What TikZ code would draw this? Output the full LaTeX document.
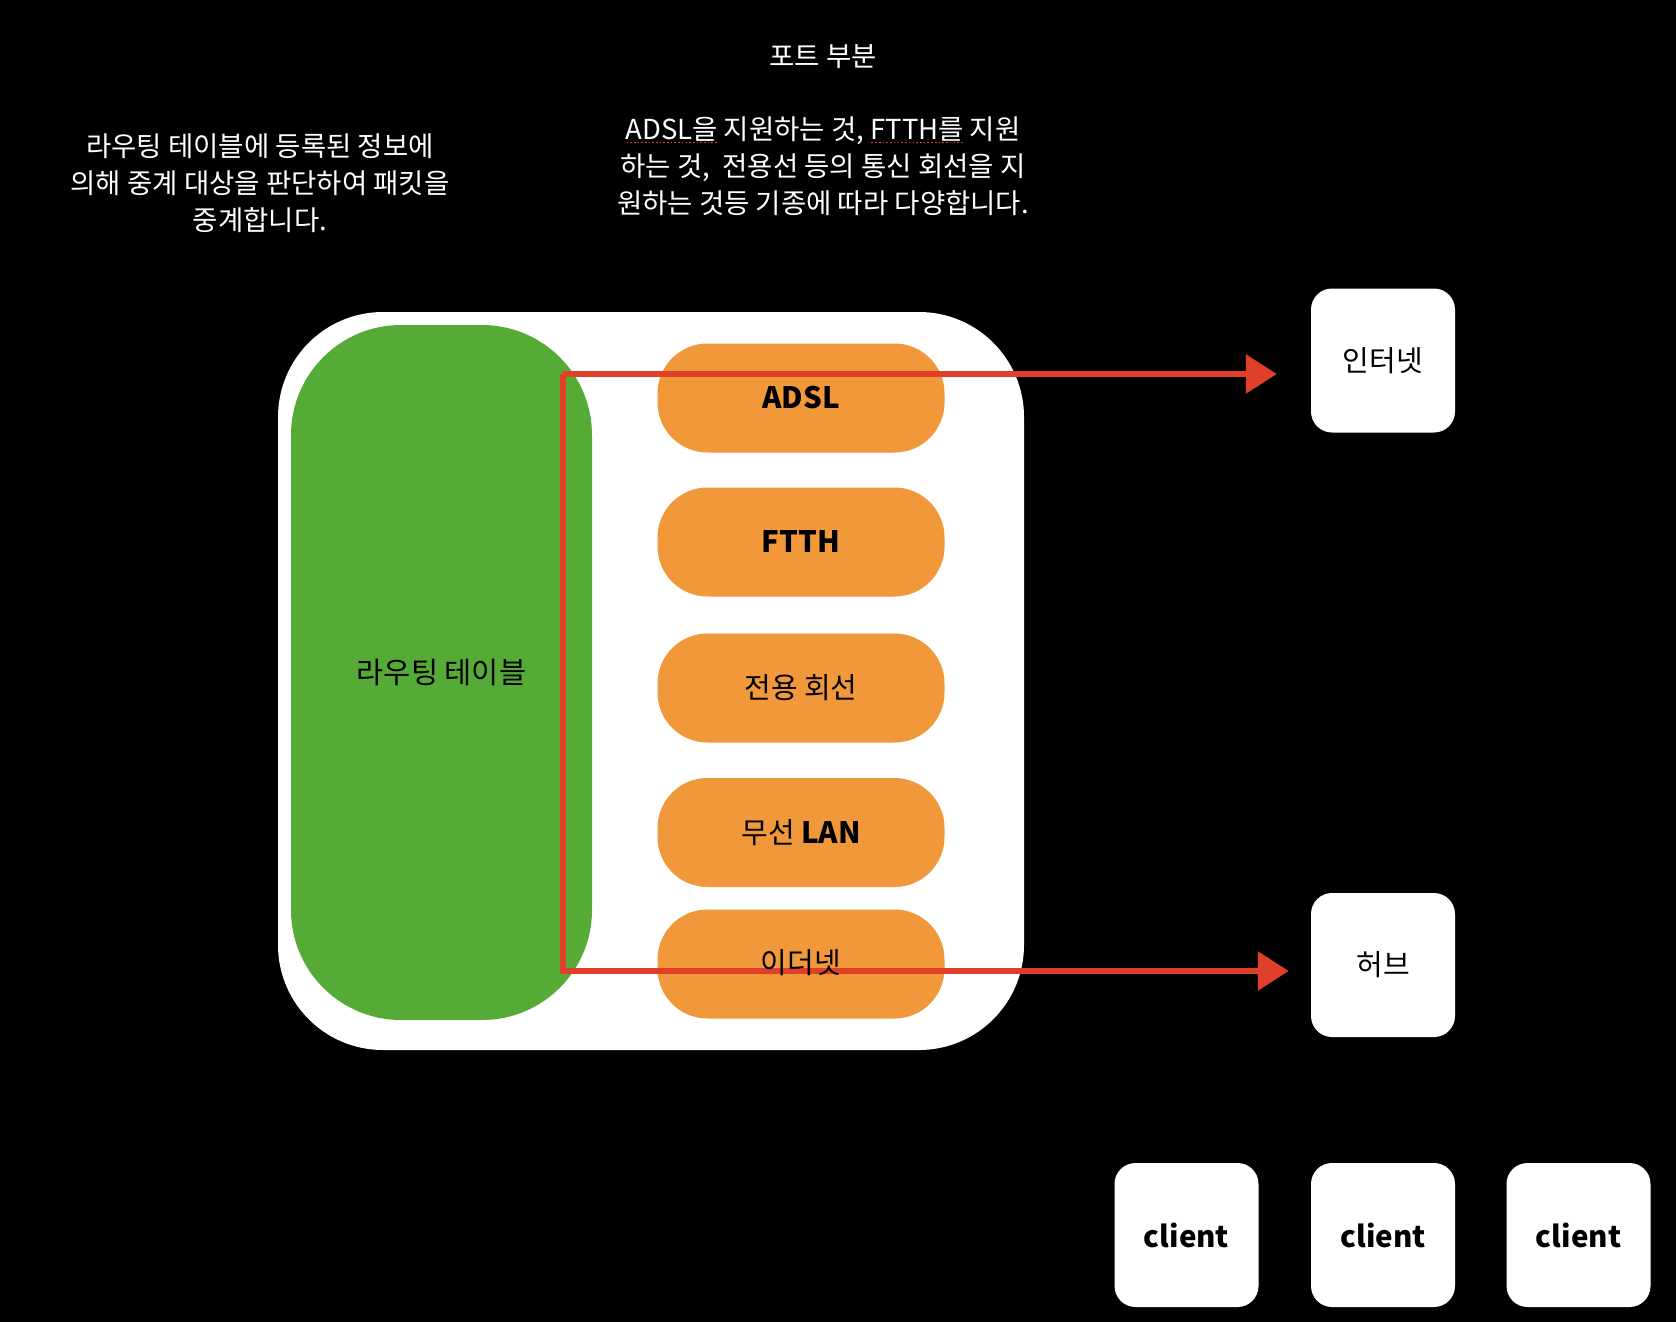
\documentclass[tikz,border=0pt]{standalone}
\usepackage{fontspec}
\setmainfont{Noto Sans CJK KR}
\usepackage{xcolor}
\usepackage{tikz}
\usetikzlibrary{arrows.meta,positioning,calc}
\definecolor{routegreen}{HTML}{55AB35}
\definecolor{portorange}{HTML}{F1993A}
\definecolor{routered}{HTML}{E0402A}
\definecolor{spellred}{HTML}{E0402A}
\newcommand\spellmark[1]{\setbox0\hbox{#1}\leavevmode
  \rlap{\lower4pt\hbox to\wd0{\color{spellred}\xleaders\hbox{\kern1pt\rule{1.6pt}{1.6pt}\kern1pt}\hfil}}\box0\relax}
\tikzset{
  panel/.style={
    fill=white,rounded corners=105pt,
    minimum width=746pt,minimum height=738pt
  },
  tablebox/.style={
    fill=routegreen,rounded corners=110pt,inner sep=0pt,
    minimum width=301pt,minimum height=695pt,
    font=\fontsize{29.5pt}{34pt}\selectfont
  },
  portbox/.style={
    fill=portorange,rounded corners=50pt,inner sep=0pt,
    minimum width=287pt,minimum height=109pt
  },
  portlabel/.style={font=\fontsize{29pt}{34pt}\selectfont},
  devbox/.style={
    fill=white,rounded corners=21pt,inner sep=0pt,
    minimum width=144pt,minimum height=144pt,
    font=\fontsize{29pt}{34pt}\selectfont
  },
  note/.style={text=white,align=center,font=\fontsize{27.5pt}{37pt}\selectfont},
  route/.style={draw=routered,line width=6pt,line join=miter},
  routearrow/.style={route,-{Triangle[length=31pt,width=38pt]}}
}
\newcommand\latinlabel[1]{{\fontsize{29.5pt}{34pt}\selectfont\bfseries #1}}

\begin{document}
\begin{tikzpicture}[x=1pt,y=-1pt]
\fill[black] (0,0) rectangle (1676,1322);

% texts on top
\node[note] (porttitle) at (823,57) {포트 부분};
\node[note] (portnote) at (823,166)
{\spellmark{ADSL을} 지원하는 것, \spellmark{FTTH를} 지원\\하는 것,~ 전용선 등의 통신 회선을 지\\원하는 것등 기종에 따라 다양합니다.};
\node[note] (tablenote) at (260,183)
{라우팅 테이블에 등록된 정보에\\의해 중계 대상을 판단하여 패킷을\\중계합니다.};

% router
\node[panel] (router) at (651,681) {};
\node[tablebox] (table) at (441.5,672.5) {라우팅 테이블};
\node[portbox] (adsl) at (801,398) {};
\node[portbox] (ftth) at (801,542) {};
\node[portbox] (leased) at (801,688) {};
\node[portbox] (wlan) at (801,832.5) {};
\node[portbox] (ether) at (801,964) {};

% devices
\node[devbox] (inet) at (1383,360.5) {인터넷};
\node[devbox] (hub) at (1383,965) {허브};
\node[devbox] (client1) at (1186.5,1235) {\latinlabel{client}};
\node[devbox] (client2) at (1383,1235) {\latinlabel{client}};
\node[devbox] (client3) at (1578.5,1235) {\latinlabel{client}};

% forwarding paths
\coordinate (tap) at (563,374);
\coordinate (drop) at (563,971);
\draw[routearrow,shorten >=34pt] (tap) -- (tap -| inet.west);
\draw[routearrow,shorten >=22pt] (tap) -- (drop) -- (drop -| hub.west);

% port labels
\node[portlabel] (adsl-t) at (adsl) {\latinlabel{ADSL}};
\node[portlabel] (ftth-t) at (ftth) {\latinlabel{FTTH}};
\node[portlabel] (leased-t) at (leased) {전용 회선};
\node[portlabel] (wlan-t) at (wlan) {무선 \latinlabel{LAN}};
\node[portlabel] (ether-t) at ([yshift=1pt]ether) {이더넷};
\end{tikzpicture}
\end{document}
